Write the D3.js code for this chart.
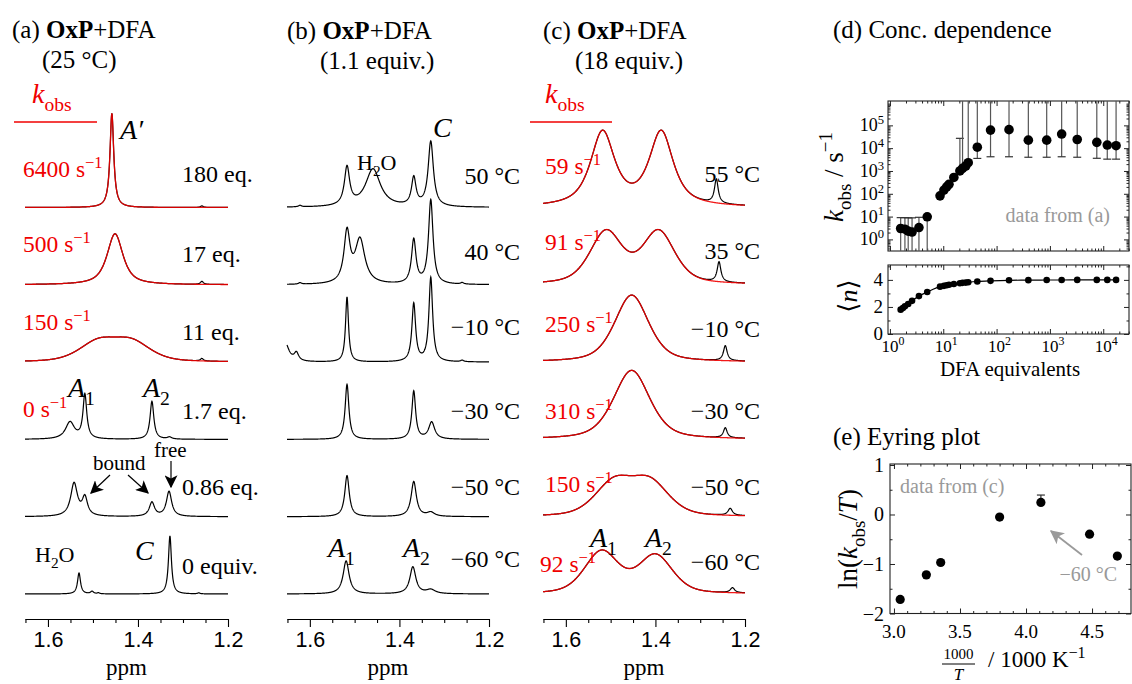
<!DOCTYPE html>
<html>
<head>
<meta charset="utf-8">
<script src="https://cdn.jsdelivr.net/npm/d3@7"></script>
<style>
  html, body { margin: 0; padding: 0; background: #fff; }
  svg { display: block; font-family: "Liberation Serif", "DejaVu Serif", serif; }
</style>
</head>
<body>
<svg id="fig" width="1132" height="684"></svg>
<script>
// ---------------------------------------------------------------
// Data
// ---------------------------------------------------------------
// NMR peak lists: [shift / ppm, height / a.u., half-width / ppm, Lorentzian fraction]
// Panel (a): OxP + DFA at 25 °C, several DFA loadings
const rowsA = ["180 eq.", "17 eq.", "11 eq.", "1.7 eq.", "0.86 eq.", "0 equiv."];
const kobsA = ["6400", "500", "150", "0", null, null];
const fitA = [
  [[1.458, 94, 0.005, 1]],
  [[1.451, 51, 0.021, 0.8]],
  [[1.489, 19, 0.050, 0.45], [1.414, 19, 0.050, 0.45]],
  null, null, null
];
const extraA = [
  [[1.258, 1.5, 0.004, 1]],
  [[1.258, 3, 0.004, 1]],
  [[1.258, 2.5, 0.004, 1]],
  [[1.551, 17, 0.012, 1], [1.518, 44, 0.005, 1], [1.369, 38, 0.005, 1], [1.330, 2, 0.006, 1]],
  [[1.542, 33, 0.009, 1], [1.518, 18, 0.007, 1], [1.369, 14, 0.007, 1], [1.331, 25, 0.007, 1]],
  [[1.531, 21, 0.004, 1], [1.502, 2.5, 0.004, 1], [1.488, 1, 0.003, 1], [1.329, 58, 0.004, 1], [1.265, 1, 0.003, 1]]
];

// Panel (b): 1.1 equiv. DFA, variable temperature
const rowsB = ["50 °C", "40 °C", "−10 °C", "−30 °C", "−50 °C", "−60 °C"];
const peaksB = [
  [[1.622, 1.5, 0.004, 1], [1.517, 38, 0.007, 1], [1.459, 38, 0.020, 1], [1.368, 28, 0.006, 1], [1.330, 65, 0.007, 1]],
  [[1.622, 1.5, 0.004, 1], [1.517, 50, 0.008, 1], [1.488, 44, 0.013, 1], [1.368, 44, 0.006, 1], [1.330, 84, 0.006, 1], [1.260, 1.5, 0.004, 1]],
  [[1.655, 19, 0.010, 1], [1.630, 8, 0.006, 1], [1.517, 65, 0.004, 1], [1.368, 58, 0.005, 1], [1.330, 84, 0.005, 1], [1.260, 1.5, 0.004, 1]],
  [[1.517, 55, 0.005, 1], [1.368, 48, 0.005, 1], [1.328, 17, 0.008, 1]],
  [[1.517, 41, 0.006, 1], [1.368, 35, 0.007, 1], [1.330, 4, 0.010, 1]],
  [[1.519, 33, 0.008, 1], [1.370, 27, 0.008, 1], [1.330, 4, 0.012, 1]]
];

// Panel (c): 18 equiv. DFA, variable temperature, with exchange fits
const rowsC = ["55 °C", "35 °C", "−10 °C", "−30 °C", "−50 °C", "−60 °C"];
const kobsC = ["59", "91", "250", "310", "150", "92"];
const fitC = [
  [[1.518, 74, 0.032, 0.8], [1.387, 74, 0.032, 0.8]],
  [[1.510, 52, 0.043, 0.5], [1.393, 52, 0.043, 0.5]],
  [[1.453, 67, 0.045, 0.5]],
  [[1.453, 69, 0.048, 0.5]],
  [[1.493, 33, 0.050, 0.4], [1.412, 33, 0.050, 0.4]],
  [[1.520, 42, 0.045, 0.4], [1.400, 38, 0.045, 0.4]]
];
const extraC = [
  [[1.264, 24, 0.005, 1]],
  [[1.258, 20, 0.005, 1]],
  [[1.244, 15, 0.005, 1]],
  [[1.244, 10, 0.005, 1]],
  [[1.233, 7, 0.006, 1]],
  [[1.228, 5, 0.006, 1]]
];

const ppmTicks = [1.65, 1.6, 1.55, 1.5, 1.45, 1.4, 1.35, 1.3, 1.25, 1.2];
const ppmLabelled = [1.6, 1.4, 1.2];

// Panel (d): concentration dependence
const dfaEq = [1.59, 1.91, 2.2, 2.6, 3.5, 5.0, 8.7, 10.3, 11.6, 12.8, 15.8, 20.5, 23, 26.4, 29.4,
               43.5, 77, 171, 394, 870, 1660, 3250, 7570, 11900, 17400];
const kObs = [3.0, 2.8, 2.3, 2.1, 3.3, 9.8, 81, 145, 200, 260, 520, 1000, 1300, 1650, 2300,
              11000, 62000, 65000, 22500, 22500, 41500, 24000, 18000, 13700, 12800];
const kLow = [0.01, 0.01, 0.01, 0.01, 0.01, 0.01, 81, 145, 200, 260, 520, 1000, 1300, 1650, 2300,
              3550, 4200, 4200, 4000, 4000, 4200, 4000, 3600, 3300, 3300];
const kHigh = [9.0, 9.0, 8.8, 8.8, 9.3, 9.8, 81, 145, 200, 260, 520, 27000, 1e7, 1650, 1e7,
               1e7, 1e7, 1e7, 1e7, 1e7, 1e7, 1e7, 1e7, 1e7, 1e7];
const kTickExp = [0, 1, 2, 3, 4, 5];

const nEq = [1.59, 1.75, 1.91, 2.2, 2.6, 3.5, 5.0, 8.7, 10.3, 11.6, 12.8, 15.8, 20.5, 23, 26.4, 29.4,
             43.5, 77, 171, 394, 870, 1660, 3250, 7570, 11900, 17400];
const nMean = [1.8, 1.92, 2.05, 2.22, 2.45, 2.8, 3.1, 3.5, 3.56, 3.6, 3.64, 3.7, 3.75, 3.78, 3.8, 3.82,
               3.88, 3.93, 3.97, 3.98, 3.99, 3.99, 4.0, 4.0, 4.0, 4.0];
const nTicks = [0, 2, 4];
const eqTickExp = [0, 1, 2, 3, 4];

// Panel (e): Eyring plot from the fitted rates of (c)
const eyringTempC = [55, 35, 25, -10, -30, -50, -60];
const eyringK = [59, 91, 113, 250, 310, 150, 92];
const eyringErrUp = [0, 0, 0, 0, 0.15, 0, 0];
const invTTicks = [3.0, 3.5, 4.0, 4.5];
const lnTicks = [1, 0, -1, -2];

// ---------------------------------------------------------------
// Helpers
// ---------------------------------------------------------------
const svg = d3.select("#fig");
const RED = "#f00000";

// text with italic / bold / sub / sup runs
function rich(g, x, y, parts, size, anchor = "start", fill = "#000") {
  const t = g.append("text").attr("x", x).attr("y", y)
    .attr("font-size", size).attr("text-anchor", anchor).attr("fill", fill);
  let shift = 0;
  parts.forEach(([s, kind]) => {
    const k = (kind || "").split(" ");
    const ts = t.append("tspan").text(s);
    let target = 0;
    if (k.includes("sub")) target = 0.28 * size;
    if (k.includes("sup")) target = -0.4 * size;
    ts.attr("dy", target - shift);
    shift = target;
    if (k.includes("sub") || k.includes("sup")) ts.attr("font-size", 0.7 * size);
    if (k.includes("it")) ts.attr("font-style", "italic");
    if (k.includes("bold")) ts.attr("font-weight", "bold");
  });
  return t;
}

function lineShape(pk, p) {
  const [c, h, w, eta] = pk;
  const u = (p - c) / w;
  return h * (eta / (1 + u * u) + (1 - eta) * Math.exp(-Math.LN2 * u * u));
}
const ppmGrid = d3.range(0, 903).map(i => 1.651 - i * 0.0005);
function trace(peaks) {
  return ppmGrid.map(p => [p, d3.sum(peaks, pk => lineShape(pk, p))]);
}
const intensity = d3.scaleLinear().domain([0, 100]).range([0, 100]);
const rowBase = d3.scaleLinear().domain([0, 5]).range([207.5, 594]);

const defs = svg.append("defs");
function marker(id, color, size) {
  defs.append("marker").attr("id", id).attr("viewBox", "0 0 10 10")
    .attr("refX", 9).attr("refY", 5).attr("markerUnits", "userSpaceOnUse")
    .attr("markerWidth", size).attr("markerHeight", size).attr("orient", "auto")
    .append("path").attr("d", "M0,0 L10,5 L0,10 L2.5,5 z").attr("fill", color);
}
marker("headK", "#000", 13);
marker("headG", "#9a9a9a", 14);

function arrow(g, x1, y1, x2, y2, color, head, width) {
  g.append("line").attr("x1", x1).attr("y1", y1).attr("x2", x2).attr("y2", y2)
    .attr("stroke", color).attr("stroke-width", width).attr("marker-end", `url(#${head})`);
}

// ---------------------------------------------------------------
// Spectra panels (a)-(c)
// ---------------------------------------------------------------
const spectraPanels = [
  { x0: 25, x1: 228, black: fitA.map((f, i) => (f || []).concat(extraA[i])), red: fitA },
  { x0: 287, x1: 489, black: peaksB, red: [null, null, null, null, null, null] },
  { x0: 543, x1: 745, black: fitC.map((f, i) => f.concat(extraC[i])), red: fitC }
];
const axisY = 619;

spectraPanels.forEach(P => {
  const g = svg.append("g");
  const x = d3.scaleLinear().domain([1.651, 1.2]).range([P.x0, P.x1]);
  P.black.forEach((peaks, i) => {
    const base = rowBase(i);
    const line = d3.line().x(d => x(d[0])).y(d => base - intensity(d[1]));
    g.append("path").datum(trace(peaks)).attr("d", line)
      .attr("fill", "none").attr("stroke", "#000").attr("stroke-width", 1.2);
    if (P.red[i]) {
      g.append("path").datum(trace(P.red[i])).attr("d", line)
        .attr("fill", "none").attr("stroke", RED).attr("stroke-width", 1.3).attr("opacity", 0.9);
    }
  });
  const ax = g.append("g").attr("transform", `translate(0,${axisY})`)
    .call(d3.axisBottom(x).tickValues(ppmTicks).tickSize(4).tickSizeOuter(0)
      .tickFormat(d => ppmLabelled.some(v => Math.abs(v - d) < 1e-6) ? d3.format(".1f")(d) : ""));
  ax.select(".domain").attr("stroke-width", 1.2);
  ax.selectAll(".tick line").attr("stroke-width", 1.1)
    .attr("y2", d => ppmLabelled.some(v => Math.abs(v - d) < 1e-6) ? 8 : 4);
  ax.selectAll(".tick text").attr("font-size", 21.5).attr("font-family", null)
    .attr("y", 13).attr("dy", "0.71em");
  g.append("text").attr("x", (P.x0 + P.x1) / 2).attr("y", 675)
    .attr("text-anchor", "middle").attr("font-size", 23).text("ppm");
});

// titles
const T = svg.append("g");
rich(T, 12, 38, [["(a) ", ""], ["OxP", "bold"], ["+DFA", ""]], 25);
rich(T, 42, 68, [["(25 °C)", ""]], 25);
rich(T, 287, 39, [["(b) ", ""], ["OxP", "bold"], ["+DFA", ""]], 25);
rich(T, 320, 69, [["(1.1 equiv.)", ""]], 25);
rich(T, 543, 39, [["(c) ", ""], ["OxP", "bold"], ["+DFA", ""]], 25);
rich(T, 575, 69, [["(18 equiv.)", ""]], 25);
rich(T, 833, 38, [["(d) Conc. dependence", ""]], 25);
rich(T, 833, 445, [["(e) Eyring plot", ""]], 25);

// k_obs headers
[[32, 14, 97], [545, 530, 612]].forEach(([tx, l0, l1]) => {
  rich(T, tx, 103, [["k", "it"], ["obs", "sub"]], 28, "start", RED);
  T.append("line").attr("x1", l0).attr("x2", l1).attr("y1", 122).attr("y2", 122)
    .attr("stroke", RED).attr("stroke-width", 1.5);
});

// row labels (a)
const labA = [182, 262, 340, 419, 495, 574];
const labAk = [177, 252, 330, 417];
rowsA.forEach((s, i) => rich(T, 182, labA[i], [[s, ""]], 24));
kobsA.forEach((k, i) => { if (k !== null) rich(T, 23, labAk[i], [[k + " s", ""], ["−1", "sup"]], 23.5, "start", RED); });
// row labels (b)
const labB = [184, 260, 335, 419, 495, 567];
rowsB.forEach((s, i) => rich(T, 520, labB[i], [[s, ""]], 24, "end"));
// row labels (c)
const labC = [182, 259, 337, 419, 495, 570];
const labCk = [174, 250, 332, 419, 492, 572];
const labCkx = [545, 545, 545, 545, 545, 540];
rowsC.forEach((s, i) => rich(T, 760, labC[i], [[s, ""]], 24, "end"));
kobsC.forEach((k, i) => rich(T, labCkx[i], labCk[i], [[k + " s", ""], ["−1", "sup"]], 23.5, "start", RED));

// peak annotations
rich(T, 120, 139, [["A′", "it"]], 28);
rich(T, 68, 397, [["A", "it"], ["1", "sub"]], 28);
rich(T, 143, 397, [["A", "it"], ["2", "sub"]], 28);
rich(T, 93, 470, [["bound", ""]], 21);
rich(T, 154, 457, [["free", ""]], 21);
arrow(T, 110, 475, 91, 493, "#000", "headK", 1.2);
arrow(T, 128, 475, 148, 493, "#000", "headK", 1.2);
arrow(T, 171, 461, 171, 487, "#000", "headK", 1.2);
rich(T, 35, 562, [["H", ""], ["2", "sub"], ["O", ""]], 22);
rich(T, 135, 560, [["C", "it"]], 28);
rich(T, 433, 137, [["C", "it"]], 28);
rich(T, 357, 170, [["H", ""], ["2", "sub"], ["O", ""]], 22);
rich(T, 328, 557, [["A", "it"], ["1", "sub"]], 28);
rich(T, 403, 557, [["A", "it"], ["2", "sub"]], 28);
rich(T, 590, 547, [["A", "it"], ["1", "sub"]], 28);
rich(T, 645, 547, [["A", "it"], ["2", "sub"]], 28);

// ---------------------------------------------------------------
// Frame helper with inward ticks on every side
// ---------------------------------------------------------------
function frame(g, x, y, opt) {
  const [X0, X1] = x.range(), [Y1, Y0] = y.range();
  const mk = (axisFn, scale, vals, len, tr) => {
    const a = g.append("g").attr("transform", tr)
      .call(axisFn(scale).tickValues(vals).tickSize(-len).tickSizeOuter(0).tickFormat(""));
    a.select(".domain").remove();
    a.selectAll(".tick line").attr("stroke", "#222").attr("stroke-width", 1);
  };
  [[opt.xMajor, 5], [opt.xMinor, 2.5]].forEach(([v, l]) => {
    mk(d3.axisBottom, x, v, l, `translate(0,${Y1})`);
    mk(d3.axisTop, x, v, l, `translate(0,${Y0})`);
  });
  [[opt.yMajor, 5], [opt.yMinor, 2.5]].forEach(([v, l]) => {
    mk(d3.axisLeft, y, v, l, `translate(${X0},0)`);
    mk(d3.axisRight, y, v, l, `translate(${X1},0)`);
  });
  g.append("rect").attr("x", X0).attr("y", Y0).attr("width", X1 - X0).attr("height", Y1 - Y0)
    .attr("fill", "none").attr("stroke", "#222").attr("stroke-width", 1.1);
}
function logMinors(dom) {
  const out = [];
  for (let e = Math.floor(Math.log10(dom[0])); e <= Math.ceil(Math.log10(dom[1])); e++)
    for (let m = 2; m <= 9; m++) { const v = m * 10 ** e; if (v >= dom[0] && v <= dom[1]) out.push(v); }
  return out;
}

// ---------------------------------------------------------------
// Panel (d)
// ---------------------------------------------------------------
const D = svg.append("g");
const eqDom = [0.92, 30400];
const xD = d3.scaleLog().domain(eqDom).range([888, 1129]);
const kDom = [0.31, 1.17e6];
const yK = d3.scaleLog().domain(kDom).range([251, 101]);
const yN = d3.scaleLinear().domain([0, 5.1]).range([334, 265]);
const eqMajor = eqTickExp.map(e => 10 ** e);

frame(D, xD, yK, { xMajor: eqMajor, xMinor: logMinors(eqDom),
  yMajor: kTickExp.map(e => 10 ** e), yMinor: logMinors(kDom) });
frame(D, xD, yN, { xMajor: eqMajor, xMinor: logMinors(eqDom), yMajor: nTicks, yMinor: [1, 3, 5] });

defs.append("clipPath").attr("id", "clipK").append("rect")
  .attr("x", 888).attr("y", 101).attr("width", 241).attr("height", 150);
const eb = D.append("g").attr("clip-path", "url(#clipK)");
dfaEq.forEach((q, i) => {
  const xx = xD(q);
  if (kHigh[i] > kObs[i] * 1.01 || kLow[i] < kObs[i] * 0.99) {
    eb.append("line").attr("x1", xx).attr("x2", xx).attr("y1", yK(kLow[i])).attr("y2", yK(kHigh[i]))
      .attr("stroke", "#555").attr("stroke-width", 1.2);
    [kLow[i], kHigh[i]].forEach(v => {
      if (v > kDom[0] && v < kDom[1] && Math.abs(v - kObs[i]) / kObs[i] > 0.01)
        eb.append("line").attr("x1", xx - 4).attr("x2", xx + 4).attr("y1", yK(v)).attr("y2", yK(v))
          .attr("stroke", "#333").attr("stroke-width", 1.2);
    });
  }
});
D.append("g").selectAll("circle").data(dfaEq).join("circle")
  .attr("cx", d => xD(d)).attr("cy", (d, i) => yK(kObs[i])).attr("r", 4.8).attr("fill", "#000");

// occupancy curve
D.append("path").datum(nEq.map((q, i) => [q, nMean[i]]))
  .attr("d", d3.line().x(d => xD(d[0])).y(d => yN(d[1])).curve(d3.curveMonotoneX))
  .attr("fill", "none").attr("stroke", "#000").attr("stroke-width", 1.2);
D.append("g").selectAll("circle").data(nEq).join("circle")
  .attr("cx", d => xD(d)).attr("cy", (d, i) => yN(nMean[i])).attr("r", 3.3).attr("fill", "#000");

kTickExp.forEach(e => rich(D, 884, yK(10 ** e) + 6, [["10", ""], [String(e), "sup"]], 18, "end"));
nTicks.forEach(v => rich(D, 883, yN(v) + 6, [[String(v), ""]], 19, "end"));
eqTickExp.forEach(e => rich(D, xD(10 ** e) + 3, 352, [["10", ""], [String(e), "sup"]], 17, "middle"));
rich(D, 1010, 376, [["DFA equivalents", ""]], 21, "middle");
rich(D, 1110, 222, [["data from (a)", ""]], 20, "end", "#999");
rich(D.append("g").attr("transform", "translate(843,177) rotate(-90)"), 0, 0,
  [["k", "it"], ["obs", "sub"], [" / s", ""], ["−1", "sup"]], 27, "middle");
rich(D.append("g").attr("transform", "translate(857,296) rotate(-90)"), 0, 0,
  [["⟨", ""], ["n", "it"], ["⟩", ""]], 26, "middle");

// ---------------------------------------------------------------
// Panel (e)
// ---------------------------------------------------------------
const E = svg.append("g");
const xE = d3.scaleLinear().domain([2.97, 4.795]).range([890, 1131]);
const yE = d3.scaleLinear().domain([-2, 1.02]).range([613.5, 464]);
frame(E, xE, yE, { xMajor: invTTicks, xMinor: d3.range(3.0, 4.8, 0.1).filter(v => Math.abs(v * 2 - Math.round(v * 2)) > 1e-6),
  yMajor: lnTicks, yMinor: [0.5, -0.5, -1.5] });

const eyr = eyringTempC.map((t, i) => {
  const TK = t + 273.15;
  return { x: 1000 / TK, y: Math.log(eyringK[i] / TK), up: eyringErrUp[i] };
});
eyr.forEach(d => {
  if (d.up > 0) {
    E.append("line").attr("x1", xE(d.x)).attr("x2", xE(d.x)).attr("y1", yE(d.y)).attr("y2", yE(d.y + d.up))
      .attr("stroke", "#333").attr("stroke-width", 1.2);
    E.append("line").attr("x1", xE(d.x) - 4).attr("x2", xE(d.x) + 4).attr("y1", yE(d.y + d.up)).attr("y2", yE(d.y + d.up))
      .attr("stroke", "#333").attr("stroke-width", 1.2);
  }
});
E.append("g").selectAll("circle").data(eyr).join("circle")
  .attr("cx", d => xE(d.x)).attr("cy", d => yE(d.y)).attr("r", 4.6).attr("fill", "#000");

lnTicks.forEach(v => rich(E, 884, yE(v) + 7, [[v < 0 ? "−" + Math.abs(v) : String(v), ""]], 20, "end"));
invTTicks.forEach(v => rich(E, xE(v), 638, [[v.toFixed(1), ""]], 19, "middle"));
rich(E, 900, 493, [["data from (c)", ""]], 20, "start", "#999");
rich(E, 1117, 581, [["−60 °C", ""]], 20, "end", "#999");
arrow(E, 1082, 555, 1051, 531, "#9a9a9a", "headG", 1.8);
rich(E, 958.5, 659, [["1000", ""]], 15, "middle");
E.append("line").attr("x1", 942).attr("x2", 975).attr("y1", 664).attr("y2", 664).attr("stroke", "#000").attr("stroke-width", 1);
rich(E, 958.5, 680, [["T", "it"]], 17, "middle");
rich(E, 988, 667, [["/ 1000 K", ""], ["−1", "sup"]], 23, "start");
rich(E.append("g").attr("transform", "translate(857,539) rotate(-90)"), 0, 0,
  [["ln(", ""], ["k", "it"], ["obs", "sub"], ["/", ""], ["T", "it"], [")", ""]], 27, "middle");
</script>
</body>
</html>
